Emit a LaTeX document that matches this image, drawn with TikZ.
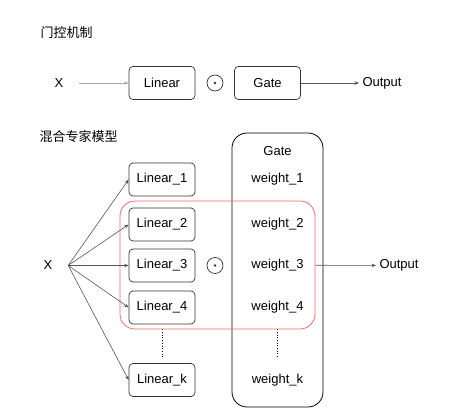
\documentclass[tikz,border=0pt]{standalone}
\usepackage{fontspec}
\setmainfont{Liberation Sans}
\newfontfamily\cjk{Noto Sans CJK SC}
\usetikzlibrary{arrows.meta}
\definecolor{edgegray}{HTML}{555555}
\definecolor{boxline}{HTML}{333333}
\definecolor{grpred}{HTML}{FF6666}
\tikzset{blk/.style={draw=boxline, line width=.7pt, rounded corners=4pt, minimum width=66pt, minimum height=33pt, inner sep=0pt},
  txt/.style={inner sep=0pt, minimum height=33pt},
  src/.style={inner sep=0pt, minimum width=40pt},
  odot/.style={circle, draw=boxline, line width=.7pt, minimum size=16pt, inner sep=0pt, path picture={\fill[boxline] (path picture bounding box.center) circle (1.4pt);}},
  con/.style={draw=edgegray, line width=.6pt, -{Stealth[length=4.5pt,width=3.5pt]}}}
\begin{document}
\begin{tikzpicture}[x=1pt, y=-1pt, font=\fontsize{13}{15}\selectfont]
  \useasboundingbox (0,0) rectangle (456,419);
  % gating
  \node[anchor=west] (t1) at (37,33) {\cjk 门控机制};
  \node[src] (x1) at (59,83) {X};
  \node[blk] (lin) at (162,83) {Linear};
  \node[odot] (m1) at (215,83) {};
  \node[blk] (gate) at (267.5,83) {Gate};
  \node[anchor=west] (o1) at (359,83) {Output};
  \draw[con, draw=gray!70] (x1.east) -- (lin);
  \draw[con] (gate) -- (o1);
  % mixture of experts
  \node[anchor=west] (t2) at (36,137) {\cjk 混合专家模型};
  \node[draw=black, line width=.8pt, rounded corners=15pt, minimum width=91pt, minimum height=274pt] (gbox) at (277.5,270) {};
  \node[draw=grpred, line width=.8pt, rounded corners=15pt, minimum width=195pt, minimum height=128pt] (grp) at (217.5,265) {};
  \node (gt) at (277.5,151) {Gate};
  \node[src] (x2) at (48,265.5) {X};
  \foreach \n/\y in {1/179.5, 2/224.5, 3/265.5, 4/307.5, k/380} {
    \node[blk] (l\n) at (162,\y) {Linear\_\n};
    \node[txt] (w\n) at (277.5,\y) {weight\_\n};
    \draw[con] (x2.east) -- (l\n.west);
  }
  \node[odot] (m2) at (215,265.5) {};
  \draw[dotted, line width=.7pt, shorten <=5pt, shorten >=5pt] (l4) -- (lk);
  \draw[dotted, line width=.7pt, shorten <=5pt, shorten >=5pt, xshift=1.5pt] (w4) -- (wk);
  \node[anchor=west] (o2) at (376,265.5) {Output};
  \draw[con] (grp) -- (o2);
\end{tikzpicture}
\end{document}
